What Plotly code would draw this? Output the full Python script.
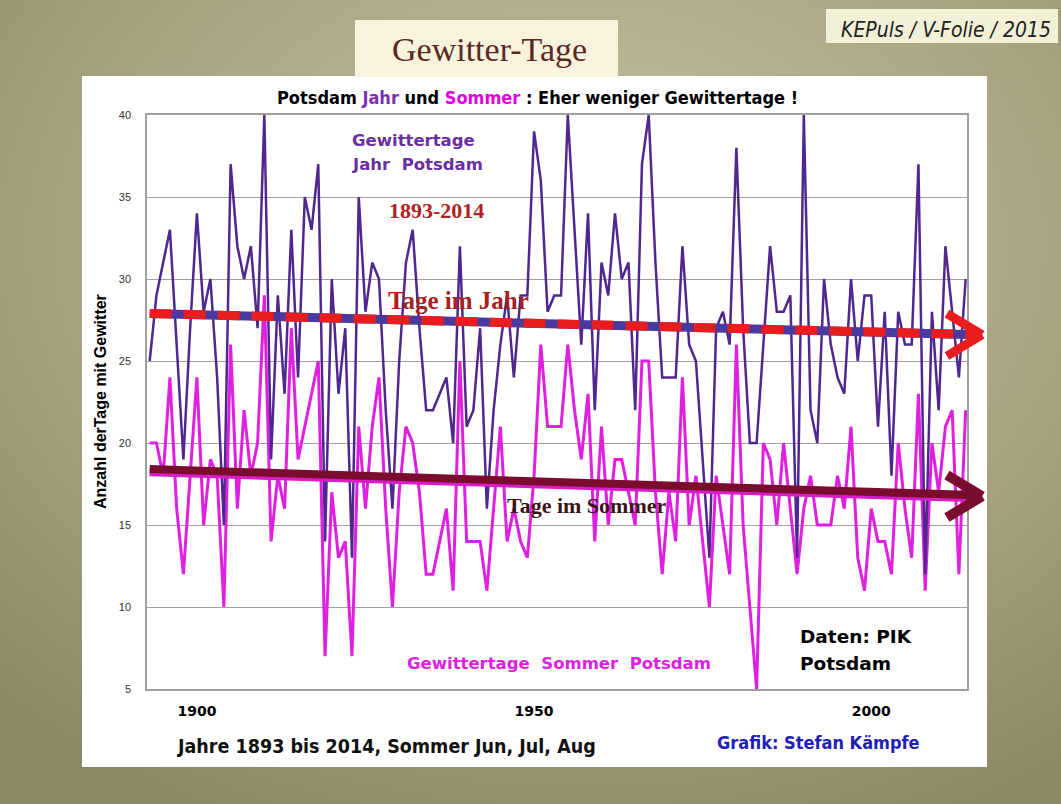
import base64
import plotly.graph_objects as go

# ---------------- data ----------------
years = list(range(1893, 2015))
jahr = [25, 29, 31, 33, 26, 19, 27, 34, 28, 30,
        24, 15, 37, 32, 30, 32, 27, 40, 19, 29,
        23, 33, 24, 35, 33, 37, 14, 30, 23, 27,
        13, 35, 28, 31, 30, 22, 16, 25, 31, 33,
        27, 22, 22, 23, 24, 20, 32, 21, 22, 27,
        16, 22, 26, 29, 24, 29, 29, 39, 36, 28,
        29, 29, 40, 33, 26, 34, 22, 31, 29, 34,
        30, 31, 22, 37, 40, 31, 24, 24, 24, 32,
        26, 25, 19, 13, 27, 28, 26, 38, 27, 20,
        20, 26, 32, 28, 28, 29, 13, 40, 22, 20,
        30, 26, 24, 23, 30, 25, 29, 29, 21, 28,
        18, 28, 26, 26, 37, 12, 28, 22, 32, 28,
        24, 30]
sommer = [20, 20, 18, 24, 16, 12, 18, 24, 15, 19,
          18, 10, 26, 16, 22, 18, 20, 29, 14, 18,
          16, 27, 19, 21, 23, 25, 7, 17, 13, 14,
          7, 21, 16, 21, 24, 16, 10, 17, 21, 20,
          17, 12, 12, 14, 16, 11, 25, 14, 14, 14,
          11, 16, 21, 14, 16, 14, 13, 18, 26, 21,
          21, 21, 26, 22, 19, 23, 14, 21, 15, 19,
          19, 17, 15, 25, 25, 17, 12, 17, 14, 24,
          15, 18, 14, 10, 18, 15, 12, 26, 15, 10,
          5, 20, 19, 15, 20, 16, 12, 16, 18, 15,
          15, 15, 18, 16, 21, 13, 11, 16, 14, 14,
          12, 20, 16, 13, 23, 11, 20, 17, 21, 22,
          12, 22]
trend_years = [1893, 2016.3]
trend_jahr = [27.9, 26.6]
trend_sommer = [18.35, 16.75]
y_ticks = [5, 10, 15, 20, 25, 30, 35, 40]
x_ticks = [1900, 1950, 2000]
x_tick_labels = ["1900", "1950", "2000"]

# ---------------- geometry helpers ----------------
W, H = 1061, 804
ML, MR, MT, MB = 147, 94, 115, 115
PW, PH = W - ML - MR, H - MT - MB
XR = [1892.6, 2014.2]


def px(x):
    return (x - ML) / PW


def py(y):
    return (H - MB - y) / PH


def interp(xs, ys, x):
    return ys[0] + (ys[1] - ys[0]) * (x - xs[0]) / (xs[1] - xs[0])


SANS = "Liberation Sans, Arial, sans-serif"
WIDE = "DejaVu Sans, Verdana, sans-serif"
COND = "DejaVu Sans Condensed, Liberation Sans Narrow, Arial Narrow, sans-serif"
SERIF = "Liberation Serif, Times New Roman, serif"

fig = go.Figure()

fig.add_trace(go.Scatter(x=years, y=sommer, mode="lines",
                         line=dict(color="#E020E0", width=3), name="Sommer"))
fig.add_trace(go.Scatter(x=years, y=jahr, mode="lines",
                         line=dict(color="#50268F", width=2.5), name="Jahr"))

# trend lines
fig.add_trace(go.Scatter(x=trend_years, y=trend_jahr, mode="lines",
                         line=dict(color="#4A3AA0", width=9), hoverinfo="skip"))
fig.add_trace(go.Scatter(x=trend_years, y=trend_jahr, mode="lines",
                         line=dict(color="#E81E1E", width=9, dash="22px,12px"),
                         hoverinfo="skip"))
fig.add_trace(go.Scatter(x=trend_years, y=[v - 0.1 for v in trend_sommer], mode="lines",
                         line=dict(color="#D81CC8", width=9), hoverinfo="skip"))
fig.add_trace(go.Scatter(x=trend_years, y=[v + 0.06 for v in trend_sommer], mode="lines",
                         line=dict(color="#7A0C2E", width=8), hoverinfo="skip"))

annotations = []


def arrow_seg(x0, y0, x1, y1, color, width):
    annotations.append(dict(x=x1, y=y1, ax=x0, ay=y0, xref="x", yref="y",
                            axref="x", ayref="y", text="", showarrow=True,
                            arrowhead=0, arrowwidth=width, arrowcolor=color,
                            standoff=0, startstandoff=0))


# arrow extensions beyond the frame + chevron heads
for ys, col, w in [(trend_jahr, "#E81E1E", 9), (trend_sommer, "#7A0C2E", 10)]:
    tip_x, tip_y = trend_years[1], ys[1]
    y_edge = interp(trend_years, ys, XR[1] - 0.3)
    arrow_seg(XR[1] - 0.3, y_edge, tip_x, tip_y, col, w)
    arrow_seg(tip_x - 5.3, tip_y + 1.35, tip_x + 0.15, tip_y, col, w)
    arrow_seg(tip_x - 5.3, tip_y - 1.35, tip_x + 0.15, tip_y, col, w)


def txt(x, y, s, size, color="black", family=SANS, xanchor="center", **kw):
    d = dict(x=px(x), y=py(y), xref="paper", yref="paper", text=s,
             showarrow=False, xanchor=xanchor, yanchor="middle",
             font=dict(size=size, color=color, family=family))
    d.update(kw)
    annotations.append(d)


txt(489, 50, "Gewitter-Tage", 34, "#5B2A1E", SERIF)
txt(1053, 30, "<i>KEPuls / V-Folie / 2015</i>", 21, "#222222", COND, xanchor="right")
txt(537, 97, "<b>Potsdam <span style='color:#7A2FB0'>Jahr</span> und "
             "<span style='color:#E000E0'>Sommer</span> : Eher weniger Gewittertage !</b>",
    18, "black", COND)
txt(350, 141, "<b>Gewittertage</b>", 16.5, "#6A2FA0", WIDE, xanchor="left")
txt(350, 165, "<b>Jahr  Potsdam</b>", 16.5, "#6A2FA0", WIDE, xanchor="left")
txt(387, 211, "<b>1893-2014</b>", 22, "#B22222", SERIF, xanchor="left")
txt(386, 300, "<b>Tage im Jahr</b>", 25, "#A52222", SERIF, xanchor="left")
txt(505, 505, "<b>Tage im Sommer</b>", 22, "#3A1515", SERIF, xanchor="left")
txt(405, 663, "<b>Gewittertage  Sommer  Potsdam</b>", 16.5, "#E020E0", WIDE, xanchor="left")
txt(798, 636, "<b>Daten: PIK</b>", 18.5, "black", WIDE, xanchor="left")
txt(798, 663, "<b>Potsdam</b>", 18.5, "black", WIDE, xanchor="left")
txt(386, 746, "<b>Jahre 1893 bis 2014, Sommer Jun, Jul, Aug</b>", 19.5, "#111111", COND)
txt(818, 743, "<b>Grafik: Stefan Kämpfe</b>", 18, "#1F20B8", COND)
txt(100, 402, "<b>Anzahl derTage mit Gewitter</b>", 16, "black", SANS, textangle=-90)

# background gradient as svg image
svg = ('<svg xmlns="http://www.w3.org/2000/svg" width="1061" height="804">'
       '<defs><radialGradient id="g" cx="55%" cy="30%" r="80%">'
       '<stop offset="0%" stop-color="#C4C1A2"/>'
       '<stop offset="60%" stop-color="#A7A381"/>'
       '<stop offset="100%" stop-color="#8A8764"/>'
       '</radialGradient></defs>'
       '<rect width="1061" height="804" fill="url(#g)"/></svg>')
src = "data:image/svg+xml;base64," + base64.b64encode(svg.encode()).decode()

shapes = [
    dict(type="rect", xref="paper", yref="paper", x0=px(82), x1=px(987),
         y0=py(767), y1=py(76), fillcolor="white", line=dict(width=0), layer="below"),
    dict(type="rect", xref="paper", yref="paper", x0=px(355), x1=px(618),
         y0=py(77), y1=py(20), fillcolor="#F7F3DD", line=dict(width=0), layer="below"),
    dict(type="rect", xref="paper", yref="paper", x0=px(826), x1=px(1058),
         y0=py(43), y1=py(9), fillcolor="#F3F0D8", line=dict(width=0), layer="below"),
]

fig.update_layout(
    width=W, height=H,
    margin=dict(l=ML, r=MR, t=MT, b=MB, pad=0),
    paper_bgcolor="#A7A381",
    plot_bgcolor="white",
    showlegend=False,
    images=[dict(source=src, xref="paper", yref="paper", x=-ML / PW, y=1 + MT / PH,
                 sizex=W / PW, sizey=H / PH, sizing="stretch", layer="below",
                 xanchor="left", yanchor="top")],
    shapes=shapes,
    annotations=annotations,
    xaxis=dict(range=XR, tickvals=x_ticks, ticktext=x_tick_labels, showgrid=False,
               showline=True, mirror=True, linecolor="#A0A0A0", linewidth=1.5,
               ticks="", ticklabelstandoff=8, zeroline=False,
               tickfont=dict(size=14, color="black", family=WIDE, weight="bold")),
    yaxis=dict(range=[5, 40], tickvals=y_ticks, showgrid=True, gridcolor="#A0A0A0",
               gridwidth=1.3, showline=True, mirror=True, linecolor="#A0A0A0",
               linewidth=1.5, ticks="", ticklabelstandoff=12, zeroline=False,
               tickfont=dict(size=11, color="#333333", family=SANS)),
)

fig.write_html("out.html",
               config={"displayModeBar": False},
               post_script="document.body.style.margin='0';"
                           "document.body.style.overflow='hidden';")
